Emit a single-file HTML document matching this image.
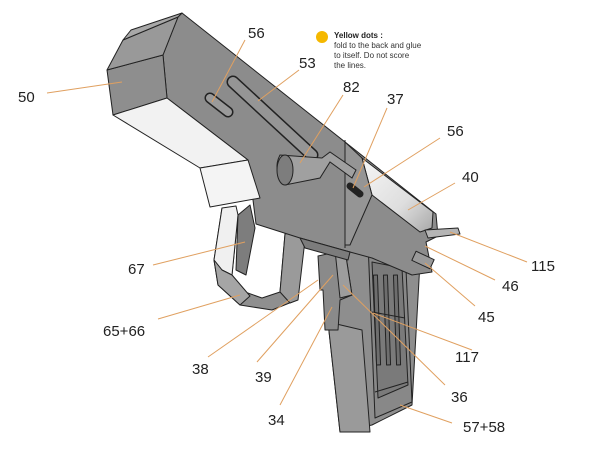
<!DOCTYPE html>
<html><head><meta charset="utf-8"><style>
html,body{margin:0;padding:0;background:#fff;}
svg{display:block;}
text{font-family:"Liberation Sans",sans-serif;}
</style></head><body>
<svg width="600" height="450" viewBox="0 0 600 450" xmlns="http://www.w3.org/2000/svg">
<defs>
<linearGradient id="sil" x1="0" y1="0" x2="1" y2="1"><stop offset="0" stop-color="#f6f6f6"/><stop offset="0.6" stop-color="#dedede"/><stop offset="1" stop-color="#a8a8a8"/></linearGradient>
</defs>
<g stroke="#222" stroke-width="1" stroke-linejoin="round">
<!-- magazine / grip -->
<polygon points="360,240 412,238 420,262 412,405 372,425 340,432 328,322 335,260" fill="#8e8e8e"/>
<polygon points="328,322 362,330 370,432 340,432" fill="#9a9a9a"/>
<polygon points="368,242 405,247 412,402 375,418" fill="#888"/>
<polygon points="372,262 402,268 408,385 378,398" fill="#7a7a7a"/>
<g fill="#6e6e6e"><rect x="375" y="275" width="4" height="90" transform="rotate(-2 377 320)"/><rect x="385" y="275" width="4" height="90" transform="rotate(-2 387 320)"/><rect x="395" y="275" width="4" height="90" transform="rotate(-2 397 320)"/></g>
<line x1="372" y1="312" x2="405" y2="318"/>
<line x1="375" y1="392" x2="408" y2="382"/>
<!-- parts 34/39 -->
<polygon points="318,256 345,250 352,295 340,300 338,330 325,330 323,290 320,290" fill="#8a8a8a"/>
<polygon points="335,250 345,250 352,295 340,298" fill="#9d9d9d"/>
<!-- trigger guard -->
<path d="M222,208 L214,260 L218,285 L240,305 L272,310 L292,302 L300,240 L285,234 L280,292 L262,298 L245,292 L232,275 L238,215 Z" fill="#8f8f8f"/>
<path d="M222,208 L236,206 L238,215 L232,275 L222,270 L214,260 Z" fill="#f0f0f0"/>
<path d="M214,260 L218,285 L240,305 L250,296 L232,275 L222,270Z" fill="#a5a5a5"/>
<path d="M285,234 L300,230 L305,240 L298,300 L290,303 L280,292Z" fill="#9a9a9a"/>
<path d="M238,215 L250,205 L255,228 L246,275 L236,270 Z" fill="#7d7d7d"/>
<!-- main side face -->
<polygon points="163,55 178,17 182,13 436,214 438,236 426,242 432,272 412,275 372,258 350,252 300,238 256,224 248,160 167,98" fill="#8c8c8c"/>
<!-- end face -->
<polygon points="107,70 163,55 167,98 113,115" fill="#8e8e8e"/>
<polygon points="107,70 123,40 178,17 163,55" fill="#999"/>
<polygon points="123,40 131,30 182,13 178,17" fill="#a8a8a8"/>
<!-- white underside -->
<polygon points="113,115 167,98 248,160 200,168" fill="#f2f2f2"/>
<polygon points="200,168 248,160 260,198 210,207" fill="#f4f4f4"/>
<!-- silver right end -->
<polygon points="362,158 433,212 432,228 420,232 372,195" fill="url(#sil)"/>
<polygon points="345,142 362,158 372,195 350,245 345,245" fill="#959595"/>
<line x1="345" y1="140" x2="345" y2="248"/>
<!-- grip top bar under slide -->
<polygon points="300,238 350,252 348,260 305,248" fill="#7c7c7c"/>
<!-- rod 115 -->
<polygon points="425,230 458,228 460,234 428,238" fill="#b5b5b5"/>
<rect x="413" y="255" width="20" height="10" fill="#9a9a9a" transform="rotate(25 423 260)"/>
</g>
<!-- slots -->
<g stroke-linecap="round">
<line x1="210" y1="98" x2="228" y2="112" stroke="#222" stroke-width="11"/>
<line x1="210" y1="98" x2="228" y2="112" stroke="#9a9a9a" stroke-width="8"/>
<line x1="233" y1="82" x2="312" y2="155" stroke="#222" stroke-width="13"/>
<line x1="233" y1="82" x2="312" y2="155" stroke="#959595" stroke-width="10"/>
<line x1="350" y1="186" x2="360" y2="194" stroke="#222" stroke-width="7"/>
</g>
<!-- lever 82 -->
<g stroke="#222" stroke-width="1">
<path d="M280,155 Q272,170 285,185 L320,178 L330,162 L352,178 L356,170 L330,152 L322,158 Z" fill="#a0a0a0"/>
<ellipse cx="285" cy="170" rx="8" ry="15" fill="#7d7d7d"/>
</g>
<!-- yellow note -->
<circle cx="322" cy="37" r="6" fill="#f5b800"/>
<text x="334" y="38" font-size="8" font-weight="bold" fill="#222">Yellow dots :</text>
<text x="334" y="48" font-size="8" fill="#333">fold to the back and glue</text>
<text x="334" y="58" font-size="8" fill="#333">to itself. Do not score</text>
<text x="334" y="68" font-size="8" fill="#333">the lines.</text>
<!-- leaders -->
<g stroke="#e0a060" stroke-width="1" fill="none">
<line x1="47" y1="93" x2="122" y2="82"/>
<line x1="245" y1="40" x2="212" y2="102"/>
<line x1="299" y1="70" x2="258" y2="101"/>
<line x1="343" y1="95" x2="300" y2="163"/>
<line x1="387" y1="108" x2="353" y2="188"/>
<line x1="440" y1="138" x2="364" y2="187"/>
<line x1="455" y1="183" x2="408" y2="210"/>
<line x1="527" y1="262" x2="450" y2="232"/>
<line x1="495" y1="280" x2="425" y2="246"/>
<line x1="475" y1="306" x2="425" y2="263"/>
<line x1="472" y1="350" x2="373" y2="313"/>
<line x1="445" y1="385" x2="343" y2="285"/>
<line x1="452" y1="423" x2="400" y2="405"/>
<line x1="280" y1="405" x2="332" y2="307"/>
<line x1="257" y1="362" x2="333" y2="275"/>
<line x1="208" y1="357" x2="318" y2="280"/>
<line x1="158" y1="319" x2="240" y2="295"/>
<line x1="153" y1="265" x2="245" y2="242"/>
</g>
<g font-size="15" fill="#222">
<text x="18" y="102">50</text>
<text x="248" y="38">56</text>
<text x="299" y="68">53</text>
<text x="343" y="92">82</text>
<text x="387" y="104">37</text>
<text x="447" y="136">56</text>
<text x="462" y="182">40</text>
<text x="531" y="271">115</text>
<text x="502" y="291">46</text>
<text x="478" y="322">45</text>
<text x="455" y="362">117</text>
<text x="451" y="402">36</text>
<text x="463" y="432">57+58</text>
<text x="268" y="425">34</text>
<text x="255" y="382">39</text>
<text x="192" y="374">38</text>
<text x="103" y="336">65+66</text>
<text x="128" y="274">67</text>
</g>
</svg>
</body></html>
